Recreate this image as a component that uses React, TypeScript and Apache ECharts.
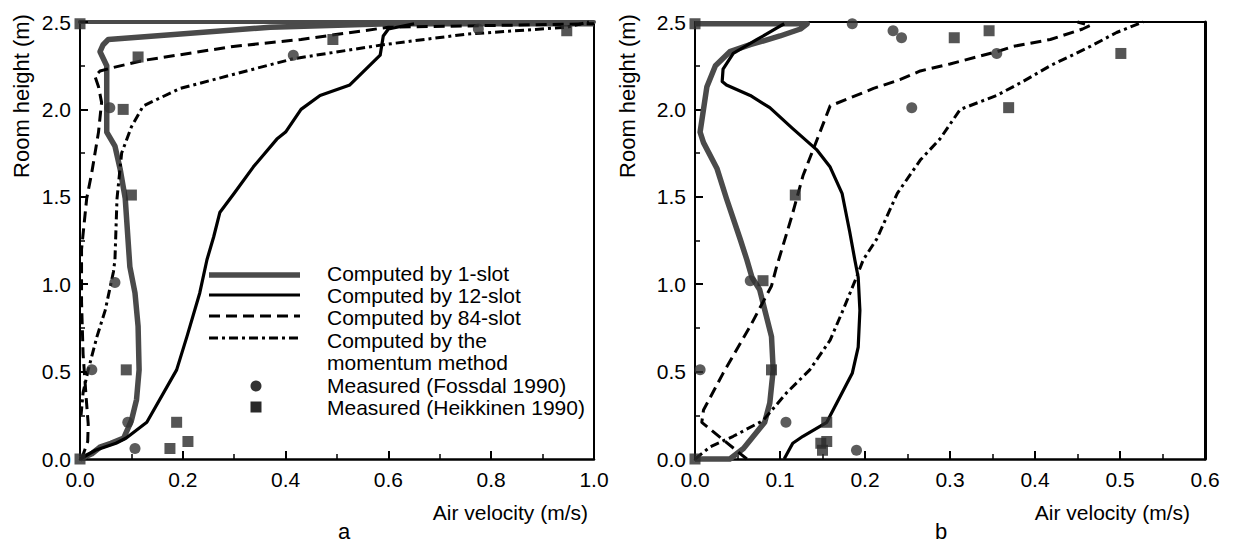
import React, { useEffect, useRef } from "react";
import * as echarts from "echarts";

type P = [number, number];

// ---- Panel a: [air velocity (m/s), room height (m)] ----
const A_SLOT1: P[] = [
  [0, 0], [0.023, 0.03], [0.04, 0.07], [0.06, 0.09], [0.085, 0.12], [0.1, 0.22], [0.11, 0.34],
  [0.115, 0.51], [0.113, 0.76], [0.107, 0.95], [0.097, 1.1], [0.088, 1.49], [0.078, 1.66],
  [0.068, 1.79], [0.052, 1.87], [0.052, 2.25], [0.039, 2.33], [0.045, 2.37], [0.055, 2.4],
  [0.37, 2.47], [0.6, 2.49], [1.0, 2.49],
];
const A_SLOT12: P[] = [
  [0, 0], [0.03, 0.05], [0.07, 0.09], [0.09, 0.12], [0.13, 0.21], [0.188, 0.51], [0.208, 0.7],
  [0.233, 0.95], [0.247, 1.14], [0.26, 1.27], [0.272, 1.41], [0.3, 1.52], [0.337, 1.67],
  [0.383, 1.83], [0.4, 1.87], [0.43, 2.0], [0.467, 2.08], [0.525, 2.14], [0.584, 2.31],
  [0.59, 2.42], [0.6, 2.46], [0.65, 2.49],
];
const A_SLOT84: P[] = [
  [0.003, 0.0], [0.015, 0.1], [0.016, 0.2], [0.012, 0.35], [0.006, 0.6], [0.003, 0.9],
  [0.003, 1.2], [0.013, 1.49], [0.023, 1.64], [0.036, 1.87], [0.042, 2.04], [0.036, 2.13],
  [0.029, 2.19], [0.039, 2.22], [0.065, 2.24], [0.123, 2.28], [0.298, 2.36], [0.43, 2.4],
  [0.6, 2.47], [1.0, 2.49],
];
const A_MOMENTUM: P[] = [
  [0.002, 0.25], [0.006, 0.38], [0.016, 0.51], [0.033, 0.7], [0.049, 0.85], [0.065, 1.07],
  [0.068, 1.14], [0.072, 1.49], [0.081, 1.75], [0.1, 1.9], [0.123, 2.02], [0.195, 2.12],
  [0.298, 2.2], [0.415, 2.29], [0.59, 2.37], [0.75, 2.43], [0.947, 2.47], [0.99, 2.5],
];
const A_FOSSDAL: P[] = [
  [0.107, 0.06], [0.093, 0.21], [0.023, 0.51], [0.068, 1.01], [0.058, 2.01], [0.415, 2.31], [0.775, 2.46],
];
const A_HEIKKINEN: P[] = [
  [0, 0], [0, 2.49], [0.175, 0.06], [0.21, 0.1], [0.188, 0.21], [0.09, 0.51], [0.1, 1.51],
  [0.084, 2.0], [0.113, 2.3], [0.492, 2.4], [0.947, 2.45],
];

// ---- Panel b ----
const B_SLOT1: P[] = [
  [0, 2.49], [0.132, 2.49], [0.124, 2.46], [0.1, 2.42], [0.065, 2.37], [0.041, 2.33],
  [0.024, 2.25], [0.014, 2.13], [0.006, 1.87], [0.01, 1.81], [0.026, 1.66], [0.037, 1.49],
  [0.053, 1.26], [0.061, 1.14], [0.067, 1.04], [0.076, 0.97], [0.09, 0.7], [0.092, 0.51],
  [0.088, 0.32], [0.082, 0.21], [0.057, 0.06], [0.041, 0.0], [0, 0],
];
const B_SLOT12: P[] = [
  [0.105, 2.49], [0.098, 2.47], [0.073, 2.4], [0.045, 2.32], [0.033, 2.23], [0.032, 2.16],
  [0.037, 2.14], [0.065, 2.08], [0.088, 2.01], [0.115, 1.89], [0.143, 1.77], [0.159, 1.67],
  [0.173, 1.52], [0.182, 1.3], [0.188, 1.14], [0.192, 1.04], [0.194, 0.85], [0.192, 0.64],
  [0.185, 0.49], [0.155, 0.21], [0.127, 0.13], [0.115, 0.09], [0.106, 0.01], [0.105, 0],
];
const B_SLOT84: P[] = [
  [0.061, 0.0], [0.018, 0.17], [0.008, 0.21], [0.01, 0.28], [0.033, 0.49], [0.065, 0.76],
  [0.09, 0.99], [0.096, 1.1], [0.114, 1.39], [0.127, 1.62], [0.147, 1.87], [0.159, 2.02],
  [0.21, 2.12], [0.241, 2.17], [0.265, 2.22], [0.3, 2.26], [0.355, 2.33], [0.374, 2.36],
  [0.418, 2.4], [0.456, 2.46], [0.465, 2.48], [0.45, 2.5],
];
const B_MOMENTUM: P[] = [
  [0, 0], [0.018, 0.07], [0.045, 0.13], [0.08, 0.22], [0.108, 0.38], [0.135, 0.51],
  [0.159, 0.68], [0.174, 0.85], [0.19, 1.04], [0.198, 1.14], [0.214, 1.26], [0.238, 1.52],
  [0.265, 1.71], [0.288, 1.83], [0.312, 2.0], [0.355, 2.08], [0.386, 2.16], [0.418, 2.25],
  [0.465, 2.36], [0.496, 2.44], [0.527, 2.5],
];
const B_FOSSDAL: P[] = [
  [0.19, 0.05], [0.107, 0.21], [0.006, 0.51], [0.065, 1.02], [0.255, 2.01], [0.355, 2.32],
  [0.243, 2.41], [0.233, 2.45], [0.185, 2.49],
];
const B_HEIKKINEN: P[] = [
  [0, 0], [0, 2.49], [0.15, 0.05], [0.148, 0.09], [0.155, 0.1], [0.155, 0.21], [0.09, 0.51],
  [0.08, 1.02], [0.118, 1.51], [0.369, 2.01], [0.305, 2.41], [0.346, 2.45], [0.501, 2.32],
];

const LEGEND_LABELS = [
  "Computed by 1-slot",
  "Computed by 12-slot",
  "Computed by 84-slot",
  "Computed by the",
  "momentum method",
  "Measured (Fossdal 1990)",
  "Measured (Heikkinen 1990)",
];
const X_NAME = "Air velocity (m/s)";
const Y_NAME = "Room height (m)";
const PANEL_LABELS = ["a", "b"];

const FONT = "'Liberation Sans', Arial, Helvetica, sans-serif";
const INK = "#000";
const GRAY = "#4a4a4a";
const DASH = [11, 6];
const DASHDOT = [9, 4, 3, 4];

export default function App() {
  const ref = useRef<HTMLDivElement>(null);
  useEffect(() => {
    if (!ref.current) return;
    const chart = echarts.init(ref.current, undefined, { renderer: "svg" });

    const fmt = (v: number) => v.toFixed(1);
    const bottomX = (gi: number, max: number, interval: number) => ({
      type: "value", gridIndex: gi, min: 0, max, interval,
      axisLine: { onZero: false, lineStyle: { color: INK, width: 2.5 } },
      axisTick: { inside: true, length: 8, lineStyle: { color: INK, width: 2 } },
      minorTick: { show: true, splitNumber: 2, length: 5, lineStyle: { color: INK, width: 1.5 } },
      splitLine: { show: false },
      axisLabel: { fontSize: 21, color: INK, fontFamily: FONT, margin: 10, formatter: fmt },
    });
    const topX = (gi: number, max: number, color: string, width: number) => ({
      type: "value", gridIndex: gi, min: 0, max, position: "top",
      axisLine: { onZero: false, lineStyle: { color, width } },
      axisTick: { show: false }, axisLabel: { show: false }, splitLine: { show: false },
    });
    const leftY = (gi: number) => ({
      type: "value", gridIndex: gi, min: 0, max: 2.5, interval: 0.5,
      axisLine: { onZero: false, lineStyle: { color: INK, width: 2 } },
      axisTick: { inside: true, length: 8, lineStyle: { color: INK, width: 2 } },
      minorTick: { show: true, splitNumber: 2, length: 5, lineStyle: { color: INK, width: 1.5 } },
      splitLine: { show: false },
      axisLabel: { fontSize: 21, color: INK, fontFamily: FONT, margin: 9, formatter: fmt },
    });
    const rightY = (gi: number, width: number) => ({
      type: "value", gridIndex: gi, min: 0, max: 2.5, position: "right",
      axisLine: { onZero: false, lineStyle: { color: INK, width } },
      axisTick: { show: false }, axisLabel: { show: false }, splitLine: { show: false },
    });

    const lineS = (name: string, data: P[], xi: number, yi: number, color: string, width: number, type: any) => ({
      name, type: "line", xAxisIndex: xi, yAxisIndex: yi, data, showSymbol: false,
      symbol: "none", clip: false, lineStyle: { color, width, type, cap: "butt", join: "round" },
      z: 3,
    });
    const scatS = (name: string, data: P[], xi: number, yi: number, symbol: string, size: number, color: string) => ({
      name, type: "scatter", xAxisIndex: xi, yAxisIndex: yi, data, symbol, symbolSize: size,
      clip: false, itemStyle: { color }, z: 4,
    });

    const panelSeries = (xi: number, yi: number, s1: P[], s12: P[], s84: P[], sm: P[], f: P[], h: P[]) => [
      lineS("Computed by 1-slot", s1, xi, yi, GRAY, 5.5, "solid"),
      lineS("Computed by 12-slot", s12, xi, yi, INK, 3.2, "solid"),
      lineS("Computed by 84-slot", s84, xi, yi, INK, 3, DASH),
      lineS("Computed by the momentum method", sm, xi, yi, INK, 3, DASHDOT),
      scatS("Measured (Fossdal 1990)", f, xi, yi, "circle", 11, "#333"),
      scatS("Measured (Heikkinen 1990)", h, xi, yi, "rect", 11, "#2a2a2a"),
    ];

    // legend graphics (panel a)
    const lx0 = 209, lx1 = 300, tx = 327;
    const rowsY = [273, 295, 317, 340, 362, 385, 407];
    const legendGraphics: any[] = [
      { type: "line", shape: { x1: lx0, y1: 275, x2: lx1, y2: 275 }, style: { stroke: GRAY, lineWidth: 5.5 } },
      { type: "line", shape: { x1: lx0, y1: 295, x2: lx1, y2: 295 }, style: { stroke: INK, lineWidth: 3.2 } },
      { type: "line", shape: { x1: lx0, y1: 316, x2: lx1, y2: 316 }, style: { stroke: INK, lineWidth: 3, lineDash: DASH } },
      { type: "line", shape: { x1: lx0, y1: 338, x2: lx1, y2: 338 }, style: { stroke: INK, lineWidth: 3, lineDash: DASHDOT } },
      { type: "circle", shape: { cx: 256, cy: 386, r: 5.5 }, style: { fill: "#333" } },
      { type: "rect", shape: { x: 250.5, y: 401.5, width: 11, height: 11 }, style: { fill: "#2a2a2a" } },
      ...LEGEND_LABELS.map((t, i) => ({
        type: "text", x: tx, y: rowsY[i],
        style: { text: t, fontSize: 21, fontFamily: FONT, fill: INK, textAlign: "left", textVerticalAlign: "middle" },
      })),
    ];

    const textG = (text: string, x: number, y: number, align: string, size: number, rotation = 0) => ({
      type: "text", x, y, rotation,
      style: { text, fontSize: size, fontFamily: FONT, fill: INK, textAlign: align, textVerticalAlign: "middle" },
    });

    const option: any = {
      animation: false,
      backgroundColor: "#fff",
      grid: [
        { left: 80, top: 22, width: 514, height: 437 },
        { left: 695, top: 22, width: 510, height: 437 },
      ],
      xAxis: [
        bottomX(0, 1.0, 0.2),
        topX(0, 1.0, GRAY, 4),
        bottomX(1, 0.6, 0.1),
        topX(1, 0.6, INK, 2),
      ],
      yAxis: [leftY(0), rightY(0, 2), leftY(1), rightY(1, 3)],
      series: [
        ...panelSeries(0, 0, A_SLOT1, A_SLOT12, A_SLOT84, A_MOMENTUM, A_FOSSDAL, A_HEIKKINEN),
        ...panelSeries(2, 2, B_SLOT1, B_SLOT12, B_SLOT84, B_MOMENTUM, B_FOSSDAL, B_HEIKKINEN),
      ],
      graphic: [
        ...legendGraphics,
        textG(Y_NAME, 21, 96, "center", 22, Math.PI / 2),
        textG(Y_NAME, 627, 96, "center", 22, Math.PI / 2),
        textG(X_NAME, 588, 512, "right", 21),
        textG(X_NAME, 1190, 512, "right", 21),
        textG(PANEL_LABELS[0], 344, 531, "center", 22),
        textG(PANEL_LABELS[1], 941, 531, "center", 22),
      ],
    };
    chart.setOption(option);
    return () => chart.dispose();
  }, []);
  return (
    <div
      ref={ref}
      style={{ position: "fixed", left: 0, top: 0, width: 1234, height: 543, background: "#fff" }}
    />
  );
}
